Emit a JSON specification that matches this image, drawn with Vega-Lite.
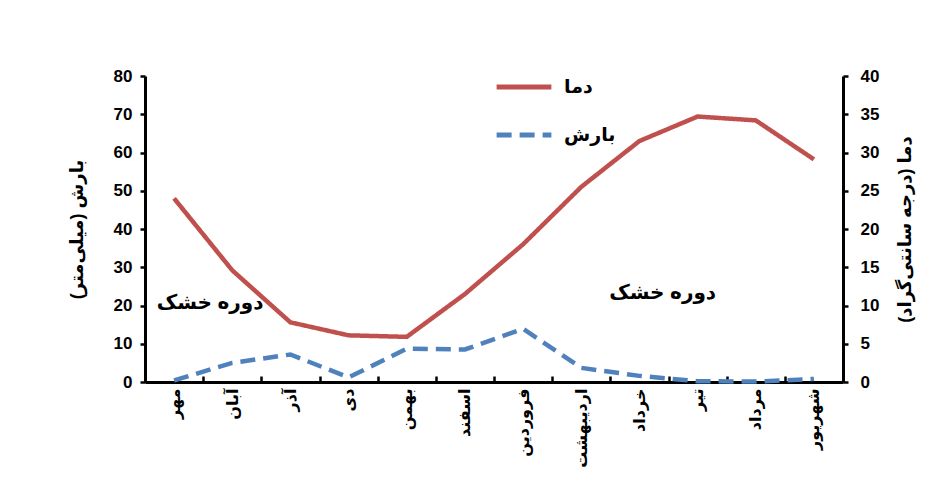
{
  "$schema": "https://vega.github.io/schema/vega-lite/v6.json",
  "width": 698,
  "height": 306,
  "autosize": {"type": "none"},
  "padding": {"left": 145, "top": 76, "right": 109, "bottom": 103},
  "background": "white",
  "config": {
    "font": "Liberation Sans, DejaVu Sans",
    "view": {"stroke": null},
    "axis": {
      "labelFont": "Liberation Sans, DejaVu Sans",
      "titleFont": "Liberation Sans, DejaVu Sans",
      "labelFontWeight": "bold",
      "titleFontWeight": "bold",
      "labelColor": "black",
      "titleColor": "black",
      "domainColor": "black",
      "tickColor": "black",
      "domainWidth": 3,
      "tickWidth": 2.5,
      "grid": false
    }
  },
  "datasets": {
    "climate": [
      {"month": "مهر", "series": "بارش", "value": 0.4},
      {"month": "آبان", "series": "بارش", "value": 5.0},
      {"month": "آذر", "series": "بارش", "value": 7.2},
      {"month": "دی", "series": "بارش", "value": 1.2},
      {"month": "بهمن", "series": "بارش", "value": 8.7},
      {"month": "اسفند", "series": "بارش", "value": 8.5},
      {"month": "فروردین", "series": "بارش", "value": 13.9},
      {"month": "اردیبهشت", "series": "بارش", "value": 3.7},
      {"month": "خرداد", "series": "بارش", "value": 1.6},
      {"month": "تیر", "series": "بارش", "value": 0.2},
      {"month": "مرداد", "series": "بارش", "value": 0.1},
      {"month": "شهریور", "series": "بارش", "value": 0.8},
      {"month": "مهر", "series": "دما", "value": 24.0},
      {"month": "آبان", "series": "دما", "value": 14.6},
      {"month": "آذر", "series": "دما", "value": 7.8},
      {"month": "دی", "series": "دما", "value": 6.1},
      {"month": "بهمن", "series": "دما", "value": 5.9},
      {"month": "اسفند", "series": "دما", "value": 11.5},
      {"month": "فروردین", "series": "دما", "value": 18.0},
      {"month": "اردیبهشت", "series": "دما", "value": 25.5},
      {"month": "خرداد", "series": "دما", "value": 31.5},
      {"month": "تیر", "series": "دما", "value": 34.7},
      {"month": "مرداد", "series": "دما", "value": 34.2},
      {"month": "شهریور", "series": "دما", "value": 29.1}
    ],
    "notes": [
      {"month": "آبان", "value": 20.6, "label": "دوره خشک", "side": "left"},
      {"month": "خرداد", "value": 23.3, "label": "دوره خشک", "side": "right"}
    ]
  },
  "encoding": {
    "x": {
      "field": "month",
      "type": "nominal",
      "sort": ["مهر", "آبان", "آذر", "دی", "بهمن", "اسفند", "فروردین", "اردیبهشت", "خرداد", "تیر", "مرداد", "شهریور"],
      "scale": {"type": "band", "paddingInner": 0, "paddingOuter": 0},
      "bandPosition": 0.5,
      "axis": {
        "title": null,
        "labelAngle": -90,
        "labelFontSize": 16,
        "labelPadding": 12,
        "tickBand": "extent",
        "tickSize": -6
      }
    }
  },
  "layer": [
    {
      "data": {"name": "climate"},
      "transform": [{"filter": "datum.series === 'بارش'"}],
      "mark": {"type": "line", "strokeWidth": 4.5, "strokeCap": "butt"},
      "encoding": {
        "y": {
          "field": "value",
          "type": "quantitative",
          "scale": {"domain": [0, 80], "nice": false},
          "axis": {
            "orient": "left",
            "title": "بارش (میلی‌متر)‏",
            "values": [0, 10, 20, 30, 40, 50, 60, 70, 80],
            "labelFontSize": 17,
            "titleFontSize": 18,
            "tickSize": 5,
            "labelPadding": 8,
            "titlePadding": 27
          }
        },
        "color": {
          "field": "series",
          "type": "nominal",
          "scale": {"domain": ["دما", "بارش"], "range": ["#C0504D", "#4F81BD"]},
          "legend": {
            "title": null,
            "orient": "none",
            "legendX": 349,
            "legendY": -19,
            "symbolType": "stroke",
            "symbolSize": 3000,
            "symbolStrokeWidth": 5,
            "labelFontSize": 19,
            "labelFontWeight": "bold",
            "labelColor": "black",
            "labelFont": "Liberation Sans, DejaVu Sans",
            "labelOffset": 10,
            "rowPadding": 8
          }
        },
        "strokeDash": {
          "field": "series",
          "type": "nominal",
          "scale": {"domain": ["دما", "بارش"], "range": [[1, 0], [15, 8]]},
          "legend": {
            "title": null,
            "orient": "none",
            "legendX": 349,
            "legendY": -19,
            "symbolType": "stroke",
            "symbolSize": 3000,
            "symbolStrokeWidth": 5,
            "labelFontSize": 19,
            "labelFontWeight": "bold",
            "labelColor": "black",
            "labelFont": "Liberation Sans, DejaVu Sans",
            "labelOffset": 10,
            "rowPadding": 8
          }
        }
      }
    },
    {
      "data": {"name": "climate"},
      "transform": [{"filter": "datum.series === 'دما'"}],
      "mark": {"type": "line", "strokeWidth": 4.5},
      "encoding": {
        "y": {
          "field": "value",
          "type": "quantitative",
          "scale": {"domain": [0, 40], "nice": false},
          "axis": {
            "orient": "right",
            "title": "دما (درجه سانتی‌گراد)‏",
            "titleAngle": -90,
            "values": [0, 5, 10, 15, 20, 25, 30, 35, 40],
            "labelFontSize": 17,
            "titleFontSize": 18,
            "tickSize": 5,
            "labelPadding": 12,
            "titlePadding": 36
          }
        },
        "color": {"field": "series", "type": "nominal"},
        "strokeDash": {"field": "series", "type": "nominal"}
      }
    },
    {
      "data": {"name": "notes"},
      "transform": [{"filter": "datum.side === 'left'"}],
      "mark": {"type": "text", "fontSize": 20, "fontWeight": "bold", "color": "black", "font": "Liberation Sans, DejaVu Sans"},
      "encoding": {
        "x": {"field": "month", "type": "nominal", "bandPosition": 0.12},
        "y": {
          "field": "value",
          "type": "quantitative",
          "scale": {"domain": [0, 80], "nice": false},
          "axis": null
        },
        "text": {"field": "label"}
      }
    },
    {
      "data": {"name": "notes"},
      "transform": [{"filter": "datum.side === 'right'"}],
      "mark": {"type": "text", "fontSize": 20, "fontWeight": "bold", "color": "black", "font": "Liberation Sans, DejaVu Sans"},
      "encoding": {
        "x": {"field": "month", "type": "nominal", "bandPosition": 0.9},
        "y": {
          "field": "value",
          "type": "quantitative",
          "scale": {"domain": [0, 80], "nice": false},
          "axis": null
        },
        "text": {"field": "label"}
      }
    }
  ],
  "resolve": {"scale": {"y": "independent"}}
}
